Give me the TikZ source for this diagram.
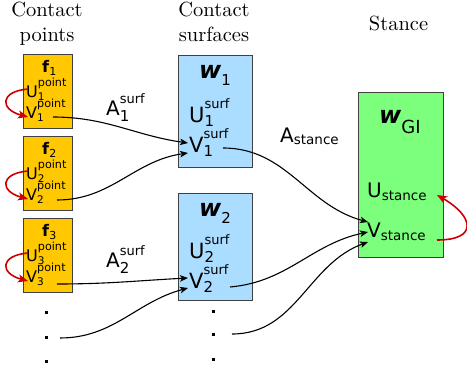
\documentclass[tikz,border=0pt]{standalone}
\usepackage{fontspec}
\usetikzlibrary{arrows.meta}
\newfontfamily\dv{DejaVu Sans}
\newfontfamily\hdrfont{lmroman10-regular}[Extension=.otf]
\definecolor{ptyellow}{HTML}{FFC800}
\definecolor{surfblue}{HTML}{AADDFF}
\definecolor{stgreen}{HTML}{7CFF7C}
\definecolor{loopred}{HTML}{CC0000}
\definecolor{boxedge}{HTML}{404040}

% base letter with a superscript and a subscript stacked after it
% #1 base, #2 sup, #3 sub, #4 sup size, #5 sub size, #6 raise, #7 lower
\newcommand{\SupSub}[7]{#1\setbox0=\hbox{\fontsize{#4}{#4}\selectfont #2}%
  \setbox2=\hbox{\fontsize{#5}{#5}\selectfont #3}%
  \rlap{\raise#6\copy0}\lower#7\copy2
  \ifdim\wd0>\wd2 \kern\dimexpr\wd0-\wd2\relax\fi}
\newcommand{\PointVar}[2]{\SupSub{#1}{point}{#2}{11.2}{10.5}{10.5pt}{3.8pt}}
\newcommand{\SurfVar}[2]{\SupSub{#1}{surf}{#2}{13}{15}{14pt}{4.5pt}}
\newcommand{\Sub}[3]{#1\lower#3\hbox{#2}}

\begin{document}
\begin{tikzpicture}[x=1pt,y=1pt,
  box/.style={draw=boxedge, line width=0.9pt, inner sep=0pt},
  ptbox/.style={box, fill=ptyellow, minimum width=49pt, minimum height=74pt},
  surfbox/.style={box, fill=surfblue, minimum width=74pt},
  stbox/.style={box, fill=stgreen, minimum width=85pt, minimum height=165pt},
  hdr/.style={align=center, font=\hdrfont\fontsize{20.5}{25}\selectfont, inner sep=0pt},
  lbl/.style={inner sep=0pt, anchor=base west},
  ptlbl/.style={lbl, font=\dv\fontsize{16}{18}\selectfont},
  surflbl/.style={lbl, font=\dv\fontsize{21}{24}\selectfont},
  arclbl/.style={lbl, font=\dv\fontsize{20}{24}\selectfont},
  wlbl/.style={lbl, font=\dv\bfseries\itshape\fontsize{24}{26}\selectfont},
  dotm/.style={fill=black, inner sep=0pt, minimum size=3pt, rectangle},
  conn/.style={line width=1.1pt, -{Stealth[length=8pt,width=6.5pt,inset=2pt]}},
  loopar/.style={line width=1.6pt, draw=loopred, -{Stealth[length=10pt,width=8pt,inset=2.5pt]}, loopred}
]
\useasboundingbox (0,0) rectangle (467,-375);

% column headings
\node[hdr] (hpts) at (47,-23.5) {Contact\\points};
\node[hdr] (hsurf) at (214,-22) {Contact\\surfaces};
\node[hdr, anchor=base] (hst) at (398.5,-30) {Stance};

% contact point boxes
\node[ptbox] (f1) at (47.5,-91) {};
\node[ptbox] (f2) at (47.5,-173) {};
\node[ptbox] (f3) at (47.5,-255) {};

% contact surface boxes and stance box
\node[surfbox, minimum height=112pt] (w1) at (215,-111) {};
\node[surfbox, minimum height=107pt] (w2) at (215,-246.5) {};
\node[stbox] (gi) at (400.5,-174.5) {};

% contact point labels
\node[ptlbl] (nf1) at (42,-72) {\Sub{\textbf{f}}{\fontsize{11}{11}\selectfont 1}{3pt}};
\node[ptlbl] (U1p) at (26,-97) {\PointVar{U}{1}};
\node[ptlbl] (V1p) at (26,-118) {\PointVar{V}{1}};
\node[ptlbl] (nf2) at (42,-154) {\Sub{\textbf{f}}{\fontsize{11}{11}\selectfont 2}{3pt}};
\node[ptlbl] (U2p) at (26,-179) {\PointVar{U}{2}};
\node[ptlbl] (V2p) at (26,-200) {\PointVar{V}{2}};
\node[ptlbl] (nf3) at (42,-236) {\Sub{\textbf{f}}{\fontsize{11}{11}\selectfont 3}{3pt}};
\node[ptlbl] (U3p) at (26,-261) {\PointVar{U}{3}};
\node[ptlbl] (V3p) at (26,-282) {\PointVar{V}{3}};

% contact surface labels
\node[wlbl] (nw1) at (199,-78) {\Sub{w}{\fontsize{15}{15}\selectfont\mdseries\upshape 1}{7pt}};
\node[surflbl] (U1s) at (189,-122) {\SurfVar{U}{1}};
\node[surflbl] (V1s) at (189,-152) {\SurfVar{V}{1}};
\node[wlbl] (nw2) at (199,-216) {\Sub{w}{\fontsize{15}{15}\selectfont\mdseries\upshape 2}{7pt}};
\node[surflbl] (U2s) at (189,-258) {\SurfVar{U}{2}};
\node[surflbl] (V2s) at (189,-288) {\SurfVar{V}{2}};

% stance labels
\node[wlbl] (nwgi) at (379,-123) {\Sub{w}{\fontsize{18}{18}\selectfont\mdseries\upshape GI}{10pt}};
\node[surflbl, font=\dv\fontsize{20}{24}\selectfont] (Ust) at (367,-197) {\Sub{U}{\fontsize{13.5}{13.5}\selectfont stance}{3pt}};
\node[surflbl, font=\dv\fontsize{20}{24}\selectfont] (Vst) at (367,-237) {\Sub{V}{\fontsize{13.5}{13.5}\selectfont stance}{3pt}};

% map labels
\node[arclbl] (a1) at (106,-115) {\SupSub{A}{surf}{1}{13}{15}{12pt}{6pt}};
\node[arclbl] (a2) at (106,-267) {\SupSub{A}{surf}{2}{13}{15}{12pt}{6pt}};
\node[arclbl] (ast) at (280,-142) {\Sub{A}{\fontsize{13.5}{13.5}\selectfont stance}{2pt}};

% continuation dots
\node[dotm] (ld1) at (46,-312) {};
\node[dotm] (ld2) at (46,-337) {};
\node[dotm] (ld3) at (46,-361) {};
\node[dotm] (md1) at (213,-311) {};
\node[dotm] (md2) at (213,-334) {};
\node[dotm] (md3) at (213,-359) {};

% points to surfaces
\draw[conn] ([shift={(27,1)}]V1p.base west) to[out=0,in=172] ([shift={(-1,9)}]V1s.base west);
\draw[conn] ([shift={(31,0)}]V2p.base west) to[out=0,in=188] ([shift={(-1,-1)}]V1s.base west);
\draw[conn] ([shift={(31,-2)}]V3p.base west) to[out=0,in=183] ([shift={(-1,10)}]V2s.base west);
\draw[conn] ([shift={(14,-1)}]ld2.center) to[out=0,in=195] ([shift={(-1,0)}]V2s.base west);

% surfaces to stance
\draw[conn] ([shift={(34,4)}]V1s.base west) to[out=0,in=165] ([shift={(1,15)}]Vst.base west);
\draw[conn] ([shift={(41,1)}]V2s.base west) to[out=5,in=192] ([shift={(1,5)}]Vst.base west);
\draw[conn] ([shift={(19,0)}]md2.center) to[out=0,in=200] ([shift={(1,-5)}]Vst.base west);

% U-to-V loops
\draw[loopar] ([shift={(2,8)}]U1p.base west) to[out=185,in=165,distance=29pt] ([shift={(2,1)}]V1p.base west);
\draw[loopar] ([shift={(2,8)}]U2p.base west) to[out=185,in=165,distance=29pt] ([shift={(2,1)}]V2p.base west);
\draw[loopar] ([shift={(2,8)}]U3p.base west) to[out=185,in=165,distance=29pt] ([shift={(2,1)}]V3p.base west);
\draw[loopar] ([shift={(70,-3)}]Vst.base west) to[out=0,in=-30,distance=42pt] ([shift={(70,2)}]Ust.base west);
\end{tikzpicture}
\end{document}
